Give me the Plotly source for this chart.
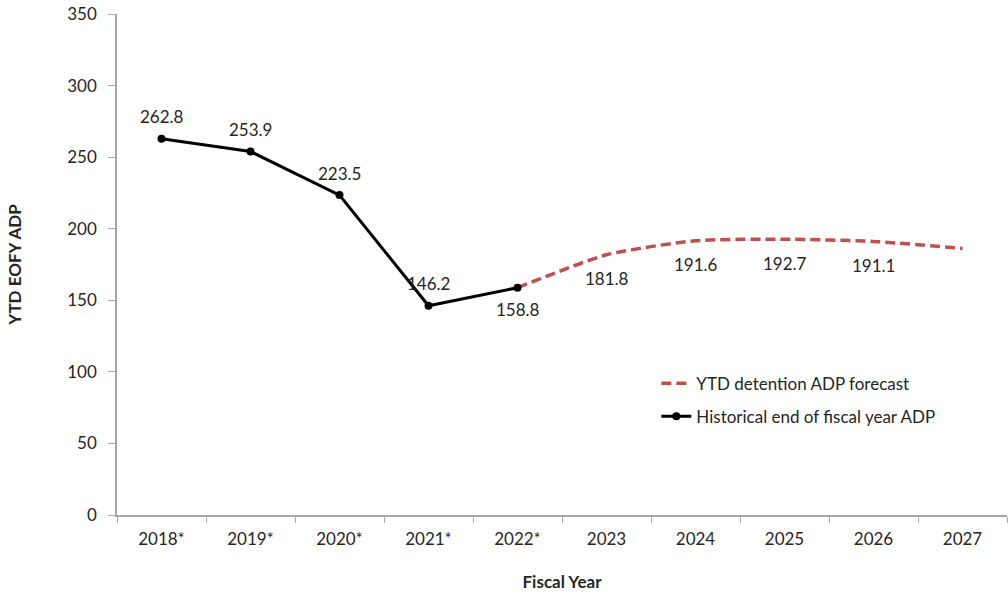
import plotly.graph_objects as go

years = ["2018*", "2019*", "2020*", "2021*", "2022*", "2023", "2024", "2025", "2026", "2027"]

hist_years = years[:5]
hist_adp = [262.8, 253.9, 223.5, 146.2, 158.8]

fcst_years = years[4:]
fcst_adp = [158.8, 181.8, 191.6, 192.7, 191.1, 186.2]

# label above (+) or below (-) the point
hist_label_side = [1, 1, 1, 1, -1]
fcst_label_side = [-1, -1, -1, -1, -1]

FONT = "Lato, 'Open Sans', sans-serif"
TEXT = "#262626"
AXIS = "#a6a6a6"

fig = go.Figure()

fig.add_trace(
    go.Scatter(
        x=fcst_years,
        y=fcst_adp,
        mode="lines",
        line=dict(color="#c0504d", width=3.5, dash="10px,5px", shape="spline", smoothing=0.6),
        name="YTD detention ADP forecast",
        legendgroup="f",
    )
)
fig.add_trace(
    go.Scatter(
        x=hist_years,
        y=hist_adp,
        mode="lines+markers",
        line=dict(color="black", width=3),
        marker=dict(color="black", size=8),
        name="Historical end of fiscal year ADP",
        legendgroup="h",
    )
)

# category axes take annotation x as an index, so look each year up
annotations = []
for x, y, s in zip(hist_years, hist_adp, hist_label_side):
    annotations.append(dict(x=years.index(x), y=y, text=f"{y:.1f}", showarrow=False, yshift=22 * s))
for x, y, s in zip(fcst_years[1:], fcst_adp[1:], fcst_label_side[1:]):
    annotations.append(dict(x=years.index(x), y=y, text=f"{y:.1f}", showarrow=False, yshift=24 * s))
for a in annotations:
    a["font"] = dict(family=FONT, size=17, color=TEXT)

fig.update_layout(
    width=1008,
    height=596,
    margin=dict(l=117, r=1, t=14, b=81),
    paper_bgcolor="white",
    plot_bgcolor="white",
    font=dict(family=FONT, size=17, color=TEXT),
    annotations=annotations,
    legend=dict(
        x=0.606,
        y=0.298,
        xanchor="left",
        yanchor="top",
        bgcolor="rgba(0,0,0,0)",
        font=dict(family=FONT, size=17, color=TEXT),
        tracegroupgap=8,
        traceorder="grouped",
    ),
    xaxis=dict(
        type="category",
        categoryorder="array",
        categoryarray=years,
        range=[-0.5, 9.5],
        tickson="boundaries",
        ticks="outside",
        ticklen=6,
        tickcolor=AXIS,
        showline=True,
        linecolor=AXIS,
        linewidth=2,
        showgrid=False,
        automargin=False,
        ticklabelstandoff=8,
        ticklabeloverflow="allow",
        title=dict(text="<b>Fiscal Year</b>", font=dict(family=FONT, size=17, color=TEXT), standoff=28),
    ),
    yaxis=dict(
        range=[0, 350],
        dtick=50,
        ticks="outside",
        ticklen=7,
        tickcolor=AXIS,
        showline=True,
        linecolor=AXIS,
        linewidth=1.5,
        showgrid=False,
        zeroline=False,
        automargin=False,
        ticklabelstandoff=8,
        ticklabeloverflow="allow",
        title=dict(text="<b>YTD EOFY ADP</b>", font=dict(family=FONT, size=17, color=TEXT), standoff=41),
    ),
)

# drop the browser's default 8px body margin so the figure sits at the page corner
fig.write_html(
    "out.html",
    config={"displayModeBar": False},
    post_script="document.body.style.margin = '0';",
)
